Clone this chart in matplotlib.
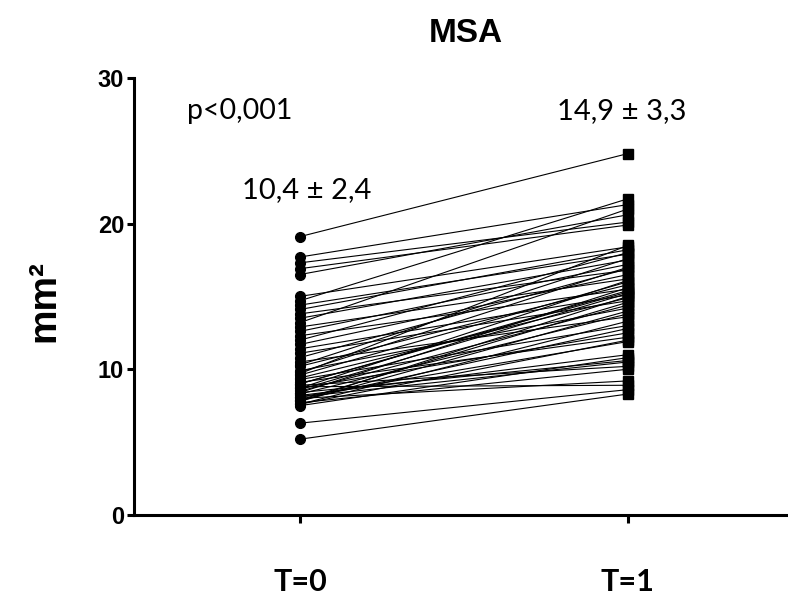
import matplotlib
matplotlib.use("Agg")
import matplotlib.pyplot as plt
import numpy as np

t0 = [19.1, 17.7, 17.3, 16.9, 16.5,
      15.0, 14.7, 14.4, 14.1, 13.8, 13.5, 13.2, 12.9, 12.6, 12.3, 12.0, 11.7, 11.4,
      11.1, 10.8, 10.5, 10.2, 9.9, 9.6, 9.3, 9.0, 8.7, 8.4, 8.1, 7.8, 7.5,
      9.0, 8.5, 8.1, 7.9, 7.6, 8.7, 10.3, 9.7, 9.4, 9.1, 8.9, 8.6, 8.3, 8.2, 8.0,
      7.9, 7.7, 7.6, 7.8, 8.4, 9.8, 8.8,
      6.3, 5.2]
t1 = [24.8, 21.3, 20.1, 19.9, 20.6,
      18.4, 21.7, 17.9, 18.2, 16.8, 17.5, 21.0, 16.2, 17.2, 15.5, 18.0, 16.5, 15.1,
      14.7, 16.9, 13.6, 15.8, 14.2, 16.0, 13.0, 15.3, 12.5, 15.6, 11.9, 14.0, 10.8,
      15.4, 14.4, 10.5, 12.8, 13.3, 16.1, 17.6, 18.5, 14.9, 12.2, 10.2, 15.2, 13.8, 11.0, 9.2,
      14.6, 10.0, 12.0, 15.0, 10.6, 17.0, 8.9,
      8.6, 8.3]

groups = ["T=0", "T=1"]
yticks = [0, 10, 20, 30]
stats = ["10,4 ± 2,4", "14,9 ± 3,3"]
p_text = "p<0,001"

txt_font = ["Lato", "DejaVu Sans"]

fig = plt.figure(figsize=(7.88, 6.03), dpi=100)
ax = fig.add_axes([0.170, 0.146, 0.830, 0.725])

for a, b in zip(t0, t1):
    ax.plot([0, 1], [a, b], color="black", lw=0.8, zorder=2)
ax.plot(np.zeros(len(t0)), t0, "o", color="black", ms=7, zorder=3)
ax.plot(np.ones(len(t1)), t1, "s", color="black", ms=6.5, zorder=3)

ax.set_xlim(-0.506, 1.488)
ax.set_ylim(0, 30)

for s in ["top", "right"]:
    ax.spines[s].set_visible(False)
for s in ["left", "bottom"]:
    ax.spines[s].set_linewidth(2.2)

ax.set_yticks(yticks, labels=[str(v) for v in yticks], fontsize=17,
              fontweight="bold", family="Liberation Sans")
ax.tick_params(axis="y", length=5, width=2.2, pad=2)

ax.set_xticks([0, 1], labels=groups, fontsize=22, fontweight="bold", family=txt_font)
ax.tick_params(axis="x", length=6, width=2.2, pad=32)

ax.set_ylabel("mm²", fontsize=28, fontweight="bold", family="Liberation Sans")
ax.yaxis.set_label_coords(-0.11, 0.49)

fig.text(0.591, 0.945, "MSA", ha="center", va="center", fontsize=24,
         fontweight="bold", family="Liberation Sans")

ax.text(-0.345, 27.7, p_text, ha="left", va="center", fontsize=20.5, family=txt_font)
ax.text(0.02, 22.3, stats[0], ha="center", va="center", fontsize=21, family=txt_font)
ax.text(0.98, 27.7, stats[1], ha="center", va="center", fontsize=21, family=txt_font)

fig.savefig("out.png", dpi=100)
